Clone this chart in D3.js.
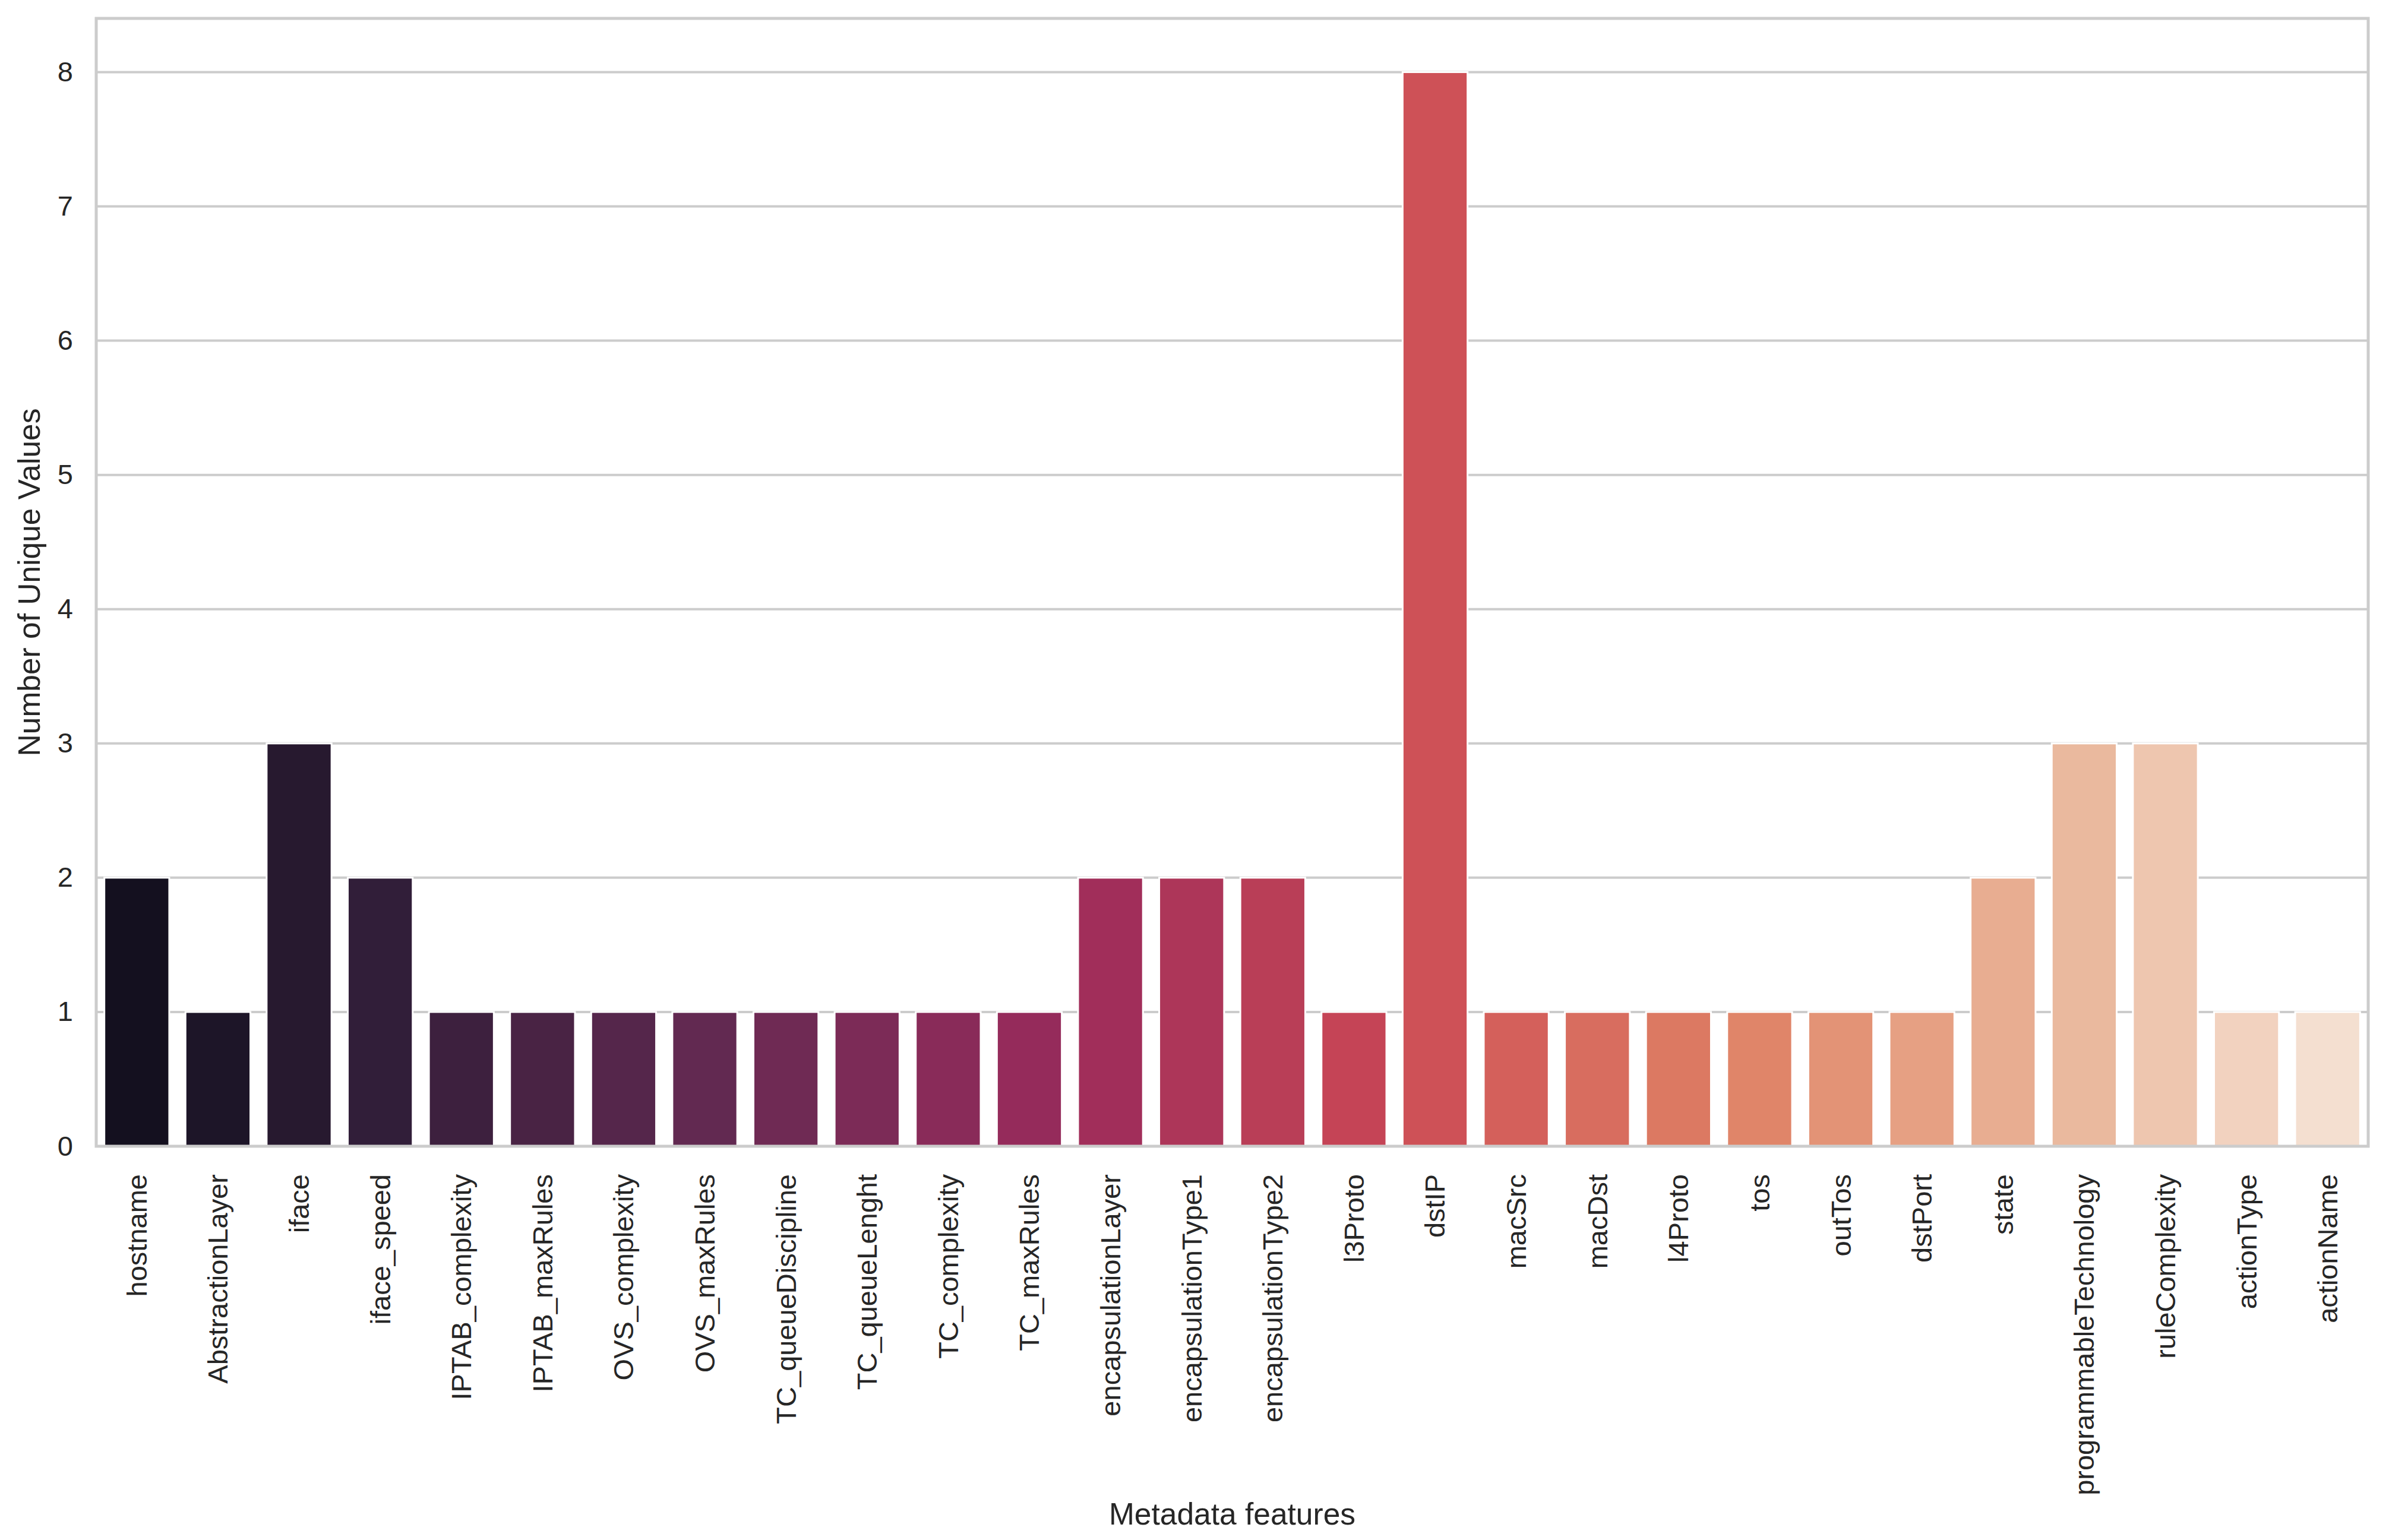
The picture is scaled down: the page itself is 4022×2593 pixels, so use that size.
<!DOCTYPE html>
<html>
<head>
<meta charset="utf-8">
<script src="https://cdn.jsdelivr.net/npm/d3@7"></script>
<style>
  html, body { margin: 0; padding: 0; background: #ffffff; }
  svg { display: block; }
  text { font-family: "Liberation Sans", Arial, sans-serif; fill: #262626; }
</style>
</head>
<body>
<script>
// ---- data ----
const categories = [
  "hostname", "AbstractionLayer", "iface", "iface_speed", "IPTAB_complexity",
  "IPTAB_maxRules", "OVS_complexity", "OVS_maxRules", "TC_queueDiscipline",
  "TC_queueLenght", "TC_complexity", "TC_maxRules", "encapsulationLayer",
  "encapsulationType1", "encapsulationType2", "l3Proto", "dstIP", "macSrc",
  "macDst", "l4Proto", "tos", "outTos", "dstPort", "state",
  "programmableTechnology", "ruleComplexity", "actionType", "actionName"
];
const uniqueCounts = [
  2, 1, 3, 2, 1,
  1, 1, 1, 1,
  1, 1, 1, 2,
  2, 2, 1, 8, 1,
  1, 1, 1, 1, 1, 2,
  3, 3, 1, 1
];
const yTicks = [0, 1, 2, 3, 4, 5, 6, 7, 8];
const xAxisTitle = "Metadata features";
const yAxisTitle = "Number of Unique Values";

// rocket colormap anchor stops
const rocketStops = ["#03051a", "#35193e", "#701f57", "#ad1759", "#e13342", "#f37651", "#f6b48f", "#faebdd"];

// ---- layout ----
const W = 4022, H = 2593;
const plot = { left: 162, right: 3987, top: 31, bottom: 1930 };

const svg = d3.select("body").append("svg")
  .attr("width", W).attr("height", H);

const x = d3.scaleBand()
  .domain(categories)
  .range([plot.left, plot.right])
  .paddingInner(0.2)
  .paddingOuter(0.1);

const y = d3.scaleLinear()
  .domain([0, 8.4])
  .range([plot.bottom, plot.top]);

// palette: rocket sampled like seaborn, then desaturated by 0.75
const rocketInterp = d3.piecewise(d3.interpolateLab, rocketStops);
const n = categories.length;
const colors = categories.map((c, i) => {
  const col = d3.hsl(rocketInterp((i + 1) / (n + 1)));
  col.s = col.s * 0.75;
  return col.formatHex();
});

// gridlines
svg.append("g").selectAll("line")
  .data(yTicks)
  .join("line")
  .attr("x1", plot.left).attr("x2", plot.right)
  .attr("y1", d => y(d)).attr("y2", d => y(d))
  .attr("stroke", "#cccccc")
  .attr("stroke-width", 4);

// bars
svg.append("g").selectAll("rect")
  .data(categories)
  .join("rect")
  .attr("x", d => x(d))
  .attr("width", x.bandwidth())
  .attr("y", (d, i) => y(uniqueCounts[i]))
  .attr("height", (d, i) => y(0) - y(uniqueCounts[i]))
  .attr("fill", (d, i) => colors[i])
  .attr("stroke", "#ffffff")
  .attr("stroke-width", 3);

// frame (spines)
svg.append("rect")
  .attr("x", plot.left).attr("y", plot.top)
  .attr("width", plot.right - plot.left)
  .attr("height", plot.bottom - plot.top)
  .attr("fill", "none")
  .attr("stroke", "#cccccc")
  .attr("stroke-width", 5);

// y axis tick labels
const yAxis = d3.axisLeft(y).tickValues(yTicks).tickSize(0).tickPadding(39).tickFormat(d3.format("d"));
const gy = svg.append("g").attr("transform", `translate(${plot.left},0)`).call(yAxis);
gy.select(".domain").remove();
gy.selectAll("text")
  .attr("font-size", 47)
  .attr("font-family", "Liberation Sans, Arial, sans-serif")
  .attr("fill", "#262626");

// x axis tick labels
const xAxis = d3.axisBottom(x).tickSize(0).tickPadding(0);
const gx = svg.append("g").attr("transform", `translate(0,${plot.bottom})`).call(xAxis);
gx.select(".domain").remove();
gx.selectAll("text")
  .attr("font-size", 47)
  .attr("font-family", "Liberation Sans, Arial, sans-serif")
  .attr("fill", "#262626")
  .attr("text-anchor", "end")
  .attr("transform", "translate(0,47) rotate(-90)")
  .attr("x", 0)
  .attr("y", 0)
  .attr("dy", "0.35em");

// axis titles
svg.append("text")
  .attr("x", (plot.left + plot.right) / 2)
  .attr("y", 2567)
  .attr("text-anchor", "middle")
  .attr("font-size", 51.5)
  .text(xAxisTitle);

svg.append("text")
  .attr("transform", `translate(67,${(plot.top + plot.bottom) / 2}) rotate(-90)`)
  .attr("text-anchor", "middle")
  .attr("font-size", 51.5)
  .text(yAxisTitle);
</script>
</body>
</html>
